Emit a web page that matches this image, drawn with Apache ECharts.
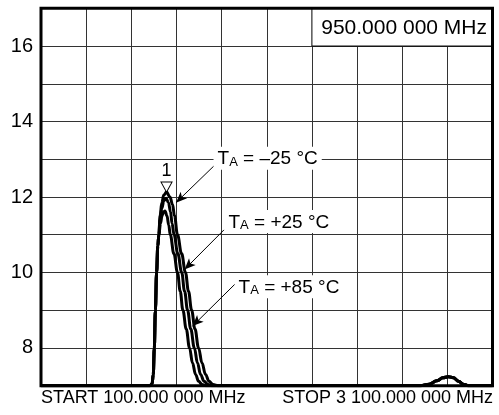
<!DOCTYPE html>
<html>
<head>
<meta charset="utf-8">
<script src="https://cdn.jsdelivr.net/npm/echarts@6/dist/echarts.min.js"></script>
<style>
  html, body { margin: 0; padding: 0; background: #fff; }
  #chart { width: 499px; height: 415px; }
</style>
</head>
<body>
<div id="chart"></div>
<script>
// ---- data (frequency in MHz, gain in dB) ----
const START_MHZ = 100;
const STOP_MHZ = 3100;
const X_STEP_MHZ = 300;
const markerFreqLabel = '950.000 000 MHz';
const startLabel = 'START 100.000 000 MHz';
const stopLabel = 'STOP 3 100.000 000 MHz';
const yTickLabels = [8, 10, 12, 14, 16];

const freqM25 = [100, 824, 838, 846, 853, 860, 868, 876, 883, 891, 903, 916, 934, 957, 974, 987, 1007, 1034, 1060, 1080, 1101, 1123, 1147, 1170, 1193, 1216, 1243, 1276, 2620, 2680, 2730, 2770, 2806, 2840, 2875, 2905, 2940, 3100];
const gainM25 = [7.0, 7.0, 7.05, 7.3, 8.0, 9.0, 10.0, 10.7, 11.0, 11.5, 11.85, 12.05, 12.13, 12.0, 11.8, 11.5, 11.0, 10.5, 10.0, 9.5, 9.0, 8.5, 8.0, 7.6, 7.3, 7.12, 7.03, 7.0, 7.0, 7.04, 7.13, 7.21, 7.24, 7.21, 7.12, 7.04, 7.0, 7.0];

const freqP25 = [100, 824, 838, 846, 853, 860, 868, 876, 883, 891, 903, 916, 931, 947, 961, 971, 984, 1009, 1035, 1054, 1074, 1095, 1119, 1140, 1160, 1183, 1210, 1236, 2620, 2680, 2730, 2770, 2806, 2840, 2875, 2905, 2940, 3100];
const gainP25 = [7.0, 7.0, 7.05, 7.3, 8.0, 9.0, 10.0, 10.7, 11.0, 11.4, 11.7, 11.9, 11.97, 11.85, 11.6, 11.3, 11.0, 10.5, 10.0, 9.5, 9.0, 8.5, 8.0, 7.6, 7.3, 7.12, 7.03, 7.0, 7.0, 7.04, 7.13, 7.21, 7.24, 7.21, 7.12, 7.04, 7.0, 7.0];

const freqP85 = [100, 824, 838, 846, 853, 860, 868, 876, 883, 894, 904, 914, 924, 937, 949, 959, 983, 1007, 1025, 1043, 1065, 1087, 1107, 1127, 1147, 1170, 1196, 2620, 2680, 2730, 2770, 2806, 2840, 2875, 2905, 2940, 3100];
const gainP85 = [7.0, 7.0, 7.05, 7.3, 8.0, 9.0, 10.0, 10.7, 11.0, 11.3, 11.5, 11.6, 11.63, 11.5, 11.25, 11.0, 10.5, 10.0, 9.5, 9.0, 8.5, 8.0, 7.6, 7.3, 7.12, 7.03, 7.0, 7.0, 7.04, 7.13, 7.21, 7.24, 7.21, 7.12, 7.04, 7.0, 7.0];

// annotation anchors [MHz, dB]
const markerPeak = [934, 12.13];
const tempLabels = [
  { text: ' = \u201325 \u00B0C', at: [1243, 13.03], arrowFrom: [1256, 12.85], arrowTo: [997, 11.85] },
  { text: ' = +25 \u00B0C', at: [1316, 11.35], arrowFrom: [1316, 11.13], arrowTo: [1054, 10.08] },
  { text: ' = +85 \u00B0C', at: [1383, 9.62], arrowFrom: [1396, 9.72], arrowTo: [1107, 8.58] }
];

// ---- chart ----
const FONT = '"Liberation Sans", Arial, Helvetica, sans-serif';
const rel = f => f - START_MHZ;
const toData = (fs, gs) => fs.map((f, i) => [rel(f), gs[i]]);

const baseLine = {
  type: 'line', symbol: 'none', smooth: 0.4, smoothMonotone: 'x',
  lineStyle: { color: '#000', width: 3 }, itemStyle: { color: '#000' },
  silent: true, z: 3
};

const labelPoints = tempLabels.map(t => ({
  coord: [rel(t.at[0]), t.at[1]],
  symbol: 'rect', symbolSize: 1,
  itemStyle: { color: 'rgba(0,0,0,0)' },
  label: {
    show: true, position: 'right', distance: 0,
    backgroundColor: '#fff', padding: [2, 4, 1, 4],
    formatter: '{t|T}{s|A}{t|' + t.text + '}',
    rich: {
      t: { fontSize: 19, color: '#000', fontFamily: FONT, verticalAlign: 'bottom', lineHeight: 20 },
      s: { fontSize: 13, color: '#000', fontFamily: FONT, verticalAlign: 'bottom', lineHeight: 20 }
    }
  }
}));

const option = {
  animation: false,
  backgroundColor: '#fff',
  textStyle: { fontFamily: FONT },
  grid: {
    left: 41, right: 6.5, top: 8.3, bottom: 29.3,
    show: true, z: 10, backgroundColor: 'rgba(0,0,0,0)',
    borderColor: '#000', borderWidth: 3
  },
  xAxis: {
    type: 'value', min: 0, max: rel(STOP_MHZ), interval: X_STEP_MHZ,
    axisLine: { show: false }, axisTick: { show: false }, axisLabel: { show: false },
    splitLine: { show: true, lineStyle: { color: '#333', width: 1 } }
  },
  yAxis: {
    type: 'value', min: 7, max: 17, interval: 1,
    axisLine: { show: false }, axisTick: { show: false },
    axisLabel: {
      fontSize: 20, color: '#000', margin: 8, fontFamily: FONT,
      formatter: v => (yTickLabels.indexOf(v) >= 0 ? String(v) : '')
    },
    splitLine: { show: true, lineStyle: { color: '#333', width: 1 } }
  },
  graphic: [
    { type: 'text', x: 41, y: 398, style: { text: startLabel, font: '18px ' + FONT, fill: '#000', align: 'left', verticalAlign: 'middle' } },
    { type: 'text', x: 493, y: 398, style: { text: stopLabel, font: '18px ' + FONT, fill: '#000', align: 'right', verticalAlign: 'middle' } }
  ],
  series: [
    Object.assign({}, baseLine, {
      name: 'TA = -25 °C', data: toData(freqM25, gainM25),
      markArea: {
        silent: true,
        itemStyle: { color: '#fff', borderColor: '#000', borderWidth: 1 },
        label: { show: true, position: 'insideRight', distance: 6, offset: [0, 1], fontSize: 21, color: '#000', fontFamily: FONT, formatter: markerFreqLabel },
        data: [[{ coord: [rel(1900), 16] }, { coord: [rel(STOP_MHZ), 17] }]]
      },
      markLine: {
        silent: true, symbol: ['none', 'arrow'], symbolSize: [7, 11],
        lineStyle: { color: '#000', width: 1, type: 'solid' },
        label: { show: false },
        data: tempLabels.map(t => [{ coord: [rel(t.arrowFrom[0]), t.arrowFrom[1]] }, { coord: [rel(t.arrowTo[0]), t.arrowTo[1]] }])
      },
      markPoint: {
        silent: true,
        data: labelPoints.concat([{
          coord: [rel(markerPeak[0]), markerPeak[1]],
          symbol: 'triangle', symbolRotate: 180, symbolSize: [11, 10], symbolOffset: [0, -5],
          itemStyle: { color: '#fff', borderColor: '#000', borderWidth: 1 },
          label: { show: true, formatter: '1', position: 'top', distance: 2, fontSize: 18, color: '#000', fontFamily: FONT }
        }])
      }
    }),
    Object.assign({}, baseLine, { name: 'TA = +25 °C', data: toData(freqP25, gainP25) }),
    Object.assign({}, baseLine, { name: 'TA = +85 °C', data: toData(freqP85, gainP85) })
  ]
};

const chart = echarts.init(document.getElementById('chart'), null, { renderer: 'canvas' });
chart.setOption(option);
</script>
</body>
</html>
